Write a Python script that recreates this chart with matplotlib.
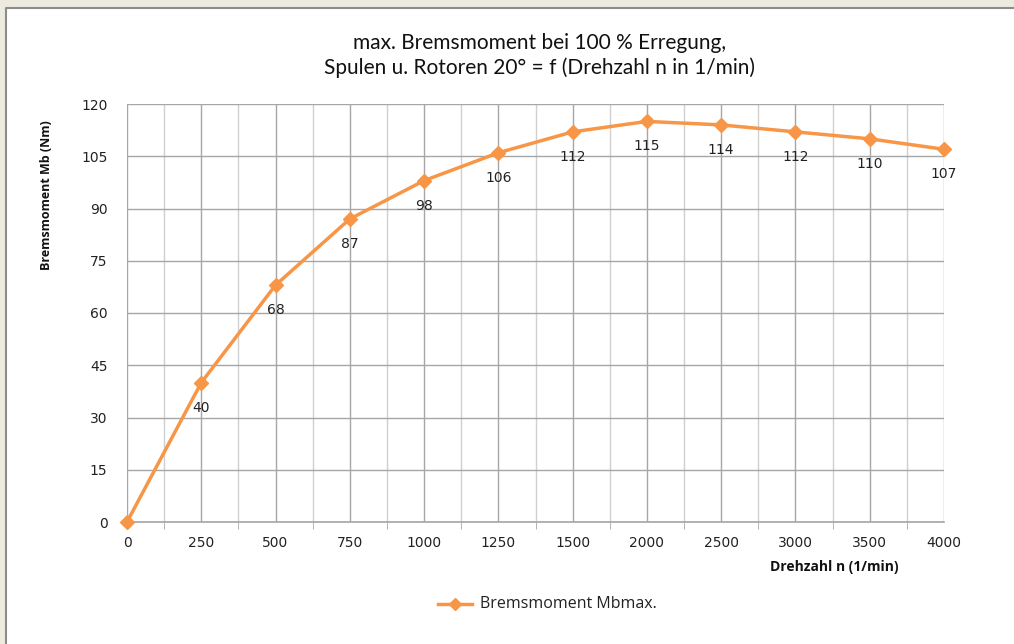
import numpy as np
import matplotlib.pyplot as plt
from matplotlib.patches import Rectangle
from matplotlib.lines import Line2D

# Drehzahl (Kategorien) und Bremsmoment
drehzahl = ['0', '250', '500', '750', '1000', '1250', '1500', '2000', '2500', '3000', '3500', '4000']
moment = [0, 40, 68, 87, 98, 106, 112, 115, 114, 112, 110, 107]
y_ticks = [0, 15, 30, 45, 60, 75, 90, 105, 120]

orange = '#F79646'
W, H = 1014, 644

fig = plt.figure(figsize=(W / 100, H / 100), dpi=100)
fig.patch.set_facecolor('#EDEADF')

# weisser Diagrammbereich mit grauem Rand oben und links
fig.patches.append(Rectangle((6 / W, 0), 1.0, (H - 8) / H, transform=fig.transFigure,
                             facecolor='white', edgecolor='none', zorder=-2))
fig.add_artist(Line2D([6 / W, 6 / W, 1.0], [0, 1 - 8 / H, 1 - 8 / H], transform=fig.transFigure,
                      color='#8C8C8C', linewidth=1.5, zorder=-1))

ax = fig.add_axes([127 / W, (H - 522) / H, (944 - 127) / W, (522 - 104) / H])
ax.set_zorder(2)
ax.set_facecolor('white')

x = np.arange(len(drehzahl))
ax.plot(x, moment, color=orange, linewidth=2.5, marker='D', markersize=7,
        markeredgecolor=orange, zorder=5, clip_on=False)

for xi, yi in zip(x, moment):
    if yi == 0:
        continue
    ax.annotate(str(yi), (xi, yi), xytext=(0, -23), textcoords='offset points',
                ha='center', va='bottom', fontsize=10, color='#222222', family='DejaVu Sans')

ax.set_xlim(0, len(drehzahl) - 1)
ax.set_ylim(0, 120)
ax.set_yticks(y_ticks)
ax.set_xticks(x)
ax.set_xticklabels(drehzahl)
ax.set_xticks(np.arange(0.5, len(drehzahl) - 1, 1.0), minor=True)

ax.grid(True, which='major', color='#A6A6A6', linewidth=1.0)
ax.grid(True, which='minor', axis='x', color='#D0D0D0', linewidth=1.0)
ax.set_axisbelow(True)

for s in ['top', 'right', 'left']:
    ax.spines[s].set_visible(False)
ax.spines['bottom'].set_color('#A6A6A6')
ax.spines['bottom'].set_linewidth(1.2)

ax.tick_params(axis='y', length=0, pad=14, labelsize=10, labelcolor='#222222')
ax.tick_params(axis='x', which='major', length=0, pad=10, labelsize=10, labelcolor='#222222')
ax.tick_params(axis='x', which='minor', length=5, color='#A6A6A6')
for lab in ax.get_xticklabels() + ax.get_yticklabels():
    lab.set_family('DejaVu Sans')

fig.text(540 / W, 1 - 43 / H, 'max. Bremsmoment bei 100 % Erregung,', ha='center', va='center',
         fontsize=15, family='Lato', color='#111111')
fig.text(540 / W, 1 - 68 / H, 'Spulen u. Rotoren 20° = f (Drehzahl n in 1/min)', ha='center', va='center',
         fontsize=15, family='Lato', color='#111111')

fig.text(47 / W, 1 - 195 / H, 'Bremsmoment Mb (Nm)', rotation=90, ha='center', va='center',
         fontsize=9, fontweight='bold', family='Open Sans', color='#111111')
fig.text(834 / W, 1 - 567 / H, 'Drehzahl n (1/min)', ha='center', va='center',
         fontsize=10, fontweight='bold', family='Open Sans', color='#111111')

# Legende
fig.add_artist(Line2D([438 / W, 472 / W], [1 - 604 / H, 1 - 604 / H], transform=fig.transFigure,
                      color=orange, linewidth=2.5))
fig.add_artist(Line2D([455 / W], [1 - 604 / H], transform=fig.transFigure, marker='D', markersize=6,
                      color=orange))
fig.text(480 / W, 1 - 604 / H, 'Bremsmoment Mbmax.', ha='left', va='center',
         fontsize=11.5, family='Open Sans', color='#222222')

fig.savefig('out.png', dpi=100, facecolor=fig.get_facecolor())
